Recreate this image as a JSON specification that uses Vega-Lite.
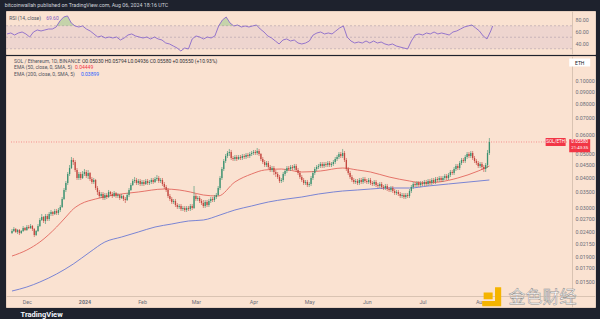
{
"$schema": "https://vega.github.io/schema/vega-lite/v6.json",
"background": "#1e222d",
"padding": {"left": 4, "top": 2, "right": 7, "bottom": 3},
"title": {"text": "bitcoinwallah published on TradingView.com, Aug 06, 2024 18:16 UTC", "anchor": "start", "fontSize": 5.3, "font": "Roboto", "fontWeight": "normal", "color": "#d1d4dc", "offset": 2.5},
"spacing": 0,
"config": {
  "view": {"fill": "#fae2d1", "stroke": "#e6cfbf", "strokeWidth": 1},
  "font": "Roboto",
  "axis": {"labelFont": "Roboto", "labelColor": "#6a6d78", "labelFontSize": 5.3, "grid": false, "ticks": false, "domainColor": "#d9c3b2", "domainWidth": 1}
},
"datasets": {
"candles": [
{"t":"2023-11-23","o":0.02365,"h":0.02455,"l":0.02342,"c":0.02410},
{"t":"2023-11-24","o":0.02410,"h":0.02502,"l":0.02387,"c":0.02455},
{"t":"2023-11-25","o":0.02455,"h":0.02479,"l":0.02365,"c":0.02387},
{"t":"2023-11-26","o":0.02387,"h":0.02455,"l":0.02342,"c":0.02432},
{"t":"2023-11-27","o":0.02432,"h":0.02455,"l":0.02320,"c":0.02365},
{"t":"2023-11-28","o":0.02365,"h":0.02432,"l":0.02342,"c":0.02410},
{"t":"2023-11-29","o":0.02410,"h":0.02526,"l":0.02387,"c":0.02479},
{"t":"2023-11-30","o":0.02479,"h":0.02502,"l":0.02410,"c":0.02432},
{"t":"2023-12-01","o":0.02432,"h":0.02550,"l":0.02410,"c":0.02502},
{"t":"2023-12-02","o":0.02502,"h":0.02550,"l":0.02455,"c":0.02479},
{"t":"2023-12-03","o":0.02479,"h":0.02574,"l":0.02455,"c":0.02526},
{"t":"2023-12-04","o":0.02526,"h":0.02550,"l":0.02410,"c":0.02455},
{"t":"2023-12-05","o":0.02455,"h":0.02479,"l":0.02277,"c":0.02320},
{"t":"2023-12-06","o":0.02320,"h":0.02432,"l":0.02299,"c":0.02410},
{"t":"2023-12-07","o":0.02410,"h":0.02574,"l":0.02387,"c":0.02526},
{"t":"2023-12-08","o":0.02526,"h":0.02724,"l":0.02502,"c":0.02673},
{"t":"2023-12-09","o":0.02673,"h":0.02829,"l":0.02648,"c":0.02750},
{"t":"2023-12-10","o":0.02750,"h":0.02776,"l":0.02599,"c":0.02648},
{"t":"2023-12-11","o":0.02648,"h":0.02829,"l":0.02574,"c":0.02776},
{"t":"2023-12-12","o":0.02776,"h":0.02829,"l":0.02648,"c":0.02699},
{"t":"2023-12-13","o":0.02699,"h":0.02883,"l":0.02648,"c":0.02829},
{"t":"2023-12-14","o":0.02829,"h":0.02938,"l":0.02776,"c":0.02883},
{"t":"2023-12-15","o":0.02883,"h":0.02910,"l":0.02776,"c":0.02829},
{"t":"2023-12-16","o":0.02829,"h":0.02966,"l":0.02803,"c":0.02910},
{"t":"2023-12-17","o":0.02910,"h":0.02966,"l":0.02803,"c":0.02856},
{"t":"2023-12-18","o":0.02856,"h":0.02994,"l":0.02803,"c":0.02938},
{"t":"2023-12-19","o":0.02938,"h":0.03080,"l":0.02883,"c":0.03022},
{"t":"2023-12-20","o":0.03022,"h":0.03321,"l":0.02994,"c":0.03259},
{"t":"2023-12-21","o":0.03259,"h":0.03615,"l":0.03228,"c":0.03548},
{"t":"2023-12-22","o":0.03548,"h":0.03862,"l":0.03481,"c":0.03790},
{"t":"2023-12-23","o":0.03790,"h":0.04204,"l":0.03719,"c":0.04126},
{"t":"2023-12-24","o":0.04126,"h":0.04491,"l":0.04049,"c":0.04366},
{"t":"2023-12-25","o":0.04366,"h":0.04843,"l":0.04325,"c":0.04708},
{"t":"2023-12-26","o":0.04708,"h":0.04798,"l":0.04491,"c":0.04620},
{"t":"2023-12-27","o":0.04620,"h":0.04708,"l":0.04204,"c":0.04284},
{"t":"2023-12-28","o":0.04284,"h":0.04366,"l":0.03899,"c":0.03973},
{"t":"2023-12-29","o":0.03973,"h":0.04204,"l":0.03899,"c":0.04126},
{"t":"2023-12-30","o":0.04126,"h":0.04204,"l":0.03899,"c":0.03973},
{"t":"2023-12-31","o":0.03973,"h":0.04244,"l":0.03936,"c":0.04126},
{"t":"2024-01-01","o":0.04126,"h":0.04325,"l":0.04049,"c":0.04204},
{"t":"2024-01-02","o":0.04204,"h":0.04284,"l":0.03973,"c":0.04049},
{"t":"2024-01-03","o":0.04049,"h":0.04284,"l":0.03936,"c":0.04165},
{"t":"2024-01-04","o":0.04165,"h":0.04204,"l":0.03862,"c":0.03936},
{"t":"2024-01-05","o":0.03936,"h":0.04011,"l":0.03755,"c":0.03826},
{"t":"2024-01-06","o":0.03826,"h":0.03973,"l":0.03755,"c":0.03899},
{"t":"2024-01-07","o":0.03899,"h":0.03936,"l":0.03548,"c":0.03615},
{"t":"2024-01-08","o":0.03615,"h":0.03684,"l":0.03384,"c":0.03481},
{"t":"2024-01-09","o":0.03481,"h":0.03548,"l":0.03290,"c":0.03352},
{"t":"2024-01-10","o":0.03352,"h":0.03481,"l":0.03290,"c":0.03416},
{"t":"2024-01-11","o":0.03416,"h":0.03481,"l":0.03228,"c":0.03290},
{"t":"2024-01-12","o":0.03290,"h":0.03449,"l":0.03228,"c":0.03384},
{"t":"2024-01-13","o":0.03384,"h":0.03449,"l":0.03259,"c":0.03321},
{"t":"2024-01-14","o":0.03321,"h":0.03548,"l":0.03290,"c":0.03481},
{"t":"2024-01-15","o":0.03481,"h":0.03514,"l":0.03352,"c":0.03416},
{"t":"2024-01-16","o":0.03416,"h":0.03481,"l":0.03290,"c":0.03352},
{"t":"2024-01-17","o":0.03352,"h":0.03514,"l":0.03321,"c":0.03449},
{"t":"2024-01-18","o":0.03449,"h":0.03481,"l":0.03290,"c":0.03352},
{"t":"2024-01-19","o":0.03352,"h":0.03449,"l":0.03290,"c":0.03384},
{"t":"2024-01-20","o":0.03384,"h":0.03416,"l":0.03228,"c":0.03290},
{"t":"2024-01-21","o":0.03290,"h":0.03416,"l":0.03259,"c":0.03352},
{"t":"2024-01-22","o":0.03352,"h":0.03384,"l":0.03198,"c":0.03259},
{"t":"2024-01-23","o":0.03259,"h":0.03321,"l":0.03138,"c":0.03228},
{"t":"2024-01-24","o":0.03228,"h":0.03449,"l":0.03198,"c":0.03384},
{"t":"2024-01-25","o":0.03384,"h":0.03615,"l":0.03321,"c":0.03548},
{"t":"2024-01-26","o":0.03548,"h":0.03790,"l":0.03514,"c":0.03719},
{"t":"2024-01-27","o":0.03719,"h":0.03936,"l":0.03684,"c":0.03862},
{"t":"2024-01-28","o":0.03862,"h":0.04011,"l":0.03790,"c":0.03899},
{"t":"2024-01-29","o":0.03899,"h":0.03973,"l":0.03719,"c":0.03790},
{"t":"2024-01-30","o":0.03790,"h":0.03936,"l":0.03719,"c":0.03862},
{"t":"2024-01-31","o":0.03862,"h":0.03936,"l":0.03684,"c":0.03755},
{"t":"2024-02-01","o":0.03755,"h":0.03899,"l":0.03684,"c":0.03826},
{"t":"2024-02-02","o":0.03826,"h":0.03899,"l":0.03684,"c":0.03755},
{"t":"2024-02-03","o":0.03755,"h":0.03936,"l":0.03719,"c":0.03862},
{"t":"2024-02-04","o":0.03862,"h":0.03936,"l":0.03719,"c":0.03790},
{"t":"2024-02-05","o":0.03790,"h":0.03899,"l":0.03719,"c":0.03826},
{"t":"2024-02-06","o":0.03826,"h":0.03973,"l":0.03755,"c":0.03899},
{"t":"2024-02-07","o":0.03899,"h":0.03973,"l":0.03755,"c":0.03826},
{"t":"2024-02-08","o":0.03826,"h":0.04011,"l":0.03790,"c":0.03936},
{"t":"2024-02-09","o":0.03936,"h":0.04087,"l":0.03862,"c":0.03973},
{"t":"2024-02-10","o":0.03973,"h":0.04049,"l":0.03790,"c":0.03862},
{"t":"2024-02-11","o":0.03862,"h":0.03973,"l":0.03790,"c":0.03899},
{"t":"2024-02-12","o":0.03899,"h":0.03973,"l":0.03684,"c":0.03755},
{"t":"2024-02-13","o":0.03755,"h":0.03826,"l":0.03581,"c":0.03649},
{"t":"2024-02-14","o":0.03649,"h":0.03719,"l":0.03481,"c":0.03548},
{"t":"2024-02-15","o":0.03548,"h":0.03615,"l":0.03290,"c":0.03352},
{"t":"2024-02-16","o":0.03352,"h":0.03416,"l":0.03198,"c":0.03259},
{"t":"2024-02-17","o":0.03259,"h":0.03321,"l":0.03109,"c":0.03168},
{"t":"2024-02-18","o":0.03168,"h":0.03259,"l":0.03109,"c":0.03198},
{"t":"2024-02-19","o":0.03198,"h":0.03259,"l":0.03022,"c":0.03080},
{"t":"2024-02-20","o":0.03080,"h":0.03138,"l":0.02966,"c":0.03022},
{"t":"2024-02-21","o":0.03022,"h":0.03109,"l":0.02966,"c":0.03051},
{"t":"2024-02-22","o":0.03051,"h":0.03109,"l":0.02910,"c":0.02966},
{"t":"2024-02-23","o":0.02966,"h":0.03051,"l":0.02910,"c":0.02994},
{"t":"2024-02-24","o":0.02994,"h":0.03051,"l":0.02883,"c":0.02938},
{"t":"2024-02-25","o":0.02938,"h":0.03051,"l":0.02883,"c":0.02994},
{"t":"2024-02-26","o":0.02994,"h":0.03051,"l":0.02910,"c":0.02966},
{"t":"2024-02-27","o":0.02966,"h":0.03109,"l":0.02910,"c":0.03051},
{"t":"2024-02-28","o":0.03051,"h":0.03109,"l":0.02938,"c":0.02994},
{"t":"2024-02-29","o":0.02994,"h":0.03684,"l":0.02966,"c":0.03352},
{"t":"2024-03-01","o":0.03352,"h":0.03416,"l":0.03198,"c":0.03259},
{"t":"2024-03-02","o":0.03259,"h":0.03352,"l":0.03198,"c":0.03290},
{"t":"2024-03-03","o":0.03290,"h":0.03352,"l":0.03138,"c":0.03198},
{"t":"2024-03-04","o":0.03198,"h":0.03259,"l":0.03080,"c":0.03138},
{"t":"2024-03-05","o":0.03138,"h":0.03228,"l":0.02994,"c":0.03051},
{"t":"2024-03-06","o":0.03051,"h":0.03228,"l":0.02994,"c":0.03168},
{"t":"2024-03-07","o":0.03168,"h":0.03228,"l":0.03022,"c":0.03080},
{"t":"2024-03-08","o":0.03080,"h":0.03259,"l":0.03022,"c":0.03198},
{"t":"2024-03-09","o":0.03198,"h":0.03321,"l":0.03138,"c":0.03259},
{"t":"2024-03-10","o":0.03259,"h":0.03321,"l":0.03168,"c":0.03228},
{"t":"2024-03-11","o":0.03228,"h":0.03384,"l":0.03168,"c":0.03321},
{"t":"2024-03-12","o":0.03321,"h":0.03449,"l":0.03259,"c":0.03384},
{"t":"2024-03-13","o":0.03384,"h":0.03684,"l":0.03352,"c":0.03615},
{"t":"2024-03-14","o":0.03615,"h":0.04049,"l":0.03548,"c":0.03973},
{"t":"2024-03-15","o":0.03973,"h":0.04407,"l":0.03899,"c":0.04325},
{"t":"2024-03-16","o":0.04325,"h":0.04753,"l":0.04244,"c":0.04664},
{"t":"2024-03-17","o":0.04664,"h":0.04983,"l":0.04577,"c":0.04889},
{"t":"2024-03-18","o":0.04889,"h":0.05126,"l":0.04798,"c":0.05030},
{"t":"2024-03-19","o":0.05030,"h":0.05224,"l":0.04889,"c":0.05077},
{"t":"2024-03-20","o":0.05077,"h":0.05175,"l":0.04708,"c":0.04798},
{"t":"2024-03-21","o":0.04798,"h":0.04889,"l":0.04664,"c":0.04753},
{"t":"2024-03-22","o":0.04753,"h":0.04936,"l":0.04664,"c":0.04843},
{"t":"2024-03-23","o":0.04843,"h":0.04936,"l":0.04664,"c":0.04753},
{"t":"2024-03-24","o":0.04753,"h":0.04936,"l":0.04708,"c":0.04843},
{"t":"2024-03-25","o":0.04843,"h":0.04936,"l":0.04708,"c":0.04798},
{"t":"2024-03-26","o":0.04798,"h":0.04983,"l":0.04708,"c":0.04889},
{"t":"2024-03-27","o":0.04889,"h":0.04983,"l":0.04753,"c":0.04843},
{"t":"2024-03-28","o":0.04843,"h":0.05030,"l":0.04753,"c":0.04936},
{"t":"2024-03-29","o":0.04936,"h":0.05030,"l":0.04798,"c":0.04889},
{"t":"2024-03-30","o":0.04889,"h":0.05077,"l":0.04798,"c":0.04983},
{"t":"2024-03-31","o":0.04983,"h":0.05126,"l":0.04889,"c":0.05030},
{"t":"2024-04-01","o":0.05030,"h":0.05175,"l":0.04936,"c":0.05077},
{"t":"2024-04-02","o":0.05077,"h":0.05175,"l":0.04936,"c":0.05030},
{"t":"2024-04-03","o":0.05030,"h":0.05273,"l":0.04936,"c":0.05126},
{"t":"2024-04-04","o":0.05126,"h":0.05224,"l":0.04889,"c":0.04983},
{"t":"2024-04-05","o":0.04983,"h":0.05030,"l":0.04664,"c":0.04753},
{"t":"2024-04-06","o":0.04753,"h":0.04843,"l":0.04534,"c":0.04620},
{"t":"2024-04-07","o":0.04620,"h":0.04708,"l":0.04407,"c":0.04491},
{"t":"2024-04-08","o":0.04491,"h":0.04664,"l":0.04407,"c":0.04577},
{"t":"2024-04-09","o":0.04577,"h":0.04664,"l":0.04325,"c":0.04407},
{"t":"2024-04-10","o":0.04407,"h":0.04491,"l":0.04204,"c":0.04284},
{"t":"2024-04-11","o":0.04284,"h":0.04449,"l":0.04204,"c":0.04366},
{"t":"2024-04-12","o":0.04366,"h":0.04449,"l":0.04087,"c":0.04204},
{"t":"2024-04-13","o":0.04204,"h":0.04284,"l":0.04011,"c":0.04126},
{"t":"2024-04-14","o":0.04126,"h":0.04204,"l":0.03936,"c":0.04011},
{"t":"2024-04-15","o":0.04011,"h":0.04087,"l":0.03790,"c":0.03862},
{"t":"2024-04-16","o":0.03862,"h":0.03973,"l":0.03790,"c":0.03899},
{"t":"2024-04-17","o":0.03899,"h":0.04204,"l":0.03826,"c":0.04126},
{"t":"2024-04-18","o":0.04126,"h":0.04325,"l":0.04049,"c":0.04244},
{"t":"2024-04-19","o":0.04244,"h":0.04449,"l":0.04165,"c":0.04366},
{"t":"2024-04-20","o":0.04366,"h":0.04449,"l":0.04244,"c":0.04325},
{"t":"2024-04-21","o":0.04325,"h":0.04491,"l":0.04244,"c":0.04407},
{"t":"2024-04-22","o":0.04407,"h":0.04491,"l":0.04284,"c":0.04366},
{"t":"2024-04-23","o":0.04366,"h":0.04534,"l":0.04284,"c":0.04449},
{"t":"2024-04-24","o":0.04449,"h":0.04534,"l":0.04204,"c":0.04284},
{"t":"2024-04-25","o":0.04284,"h":0.04366,"l":0.04087,"c":0.04165},
{"t":"2024-04-26","o":0.04165,"h":0.04244,"l":0.03936,"c":0.04011},
{"t":"2024-04-27","o":0.04011,"h":0.04087,"l":0.03826,"c":0.03899},
{"t":"2024-04-28","o":0.03899,"h":0.03973,"l":0.03719,"c":0.03790},
{"t":"2024-04-29","o":0.03790,"h":0.03899,"l":0.03719,"c":0.03826},
{"t":"2024-04-30","o":0.03826,"h":0.03899,"l":0.03649,"c":0.03719},
{"t":"2024-05-01","o":0.03719,"h":0.03826,"l":0.03649,"c":0.03755},
{"t":"2024-05-02","o":0.03755,"h":0.04049,"l":0.03684,"c":0.03973},
{"t":"2024-05-03","o":0.03973,"h":0.04244,"l":0.03899,"c":0.04165},
{"t":"2024-05-04","o":0.04165,"h":0.04407,"l":0.04087,"c":0.04325},
{"t":"2024-05-05","o":0.04325,"h":0.04491,"l":0.04244,"c":0.04407},
{"t":"2024-05-06","o":0.04407,"h":0.04534,"l":0.04325,"c":0.04449},
{"t":"2024-05-07","o":0.04449,"h":0.04620,"l":0.04366,"c":0.04534},
{"t":"2024-05-08","o":0.04534,"h":0.04620,"l":0.04366,"c":0.04449},
{"t":"2024-05-09","o":0.04449,"h":0.04620,"l":0.04366,"c":0.04534},
{"t":"2024-05-10","o":0.04534,"h":0.04620,"l":0.04407,"c":0.04491},
{"t":"2024-05-11","o":0.04491,"h":0.04664,"l":0.04407,"c":0.04577},
{"t":"2024-05-12","o":0.04577,"h":0.04664,"l":0.04407,"c":0.04491},
{"t":"2024-05-13","o":0.04491,"h":0.04620,"l":0.04407,"c":0.04534},
{"t":"2024-05-14","o":0.04534,"h":0.04708,"l":0.04449,"c":0.04620},
{"t":"2024-05-15","o":0.04620,"h":0.04843,"l":0.04534,"c":0.04753},
{"t":"2024-05-16","o":0.04753,"h":0.04936,"l":0.04664,"c":0.04843},
{"t":"2024-05-17","o":0.04843,"h":0.05077,"l":0.04753,"c":0.04983},
{"t":"2024-05-18","o":0.04983,"h":0.05077,"l":0.04798,"c":0.04889},
{"t":"2024-05-19","o":0.04889,"h":0.05224,"l":0.04798,"c":0.05030},
{"t":"2024-05-20","o":0.05030,"h":0.05126,"l":0.04620,"c":0.04708},
{"t":"2024-05-21","o":0.04708,"h":0.04798,"l":0.04244,"c":0.04325},
{"t":"2024-05-22","o":0.04325,"h":0.04407,"l":0.04087,"c":0.04165},
{"t":"2024-05-23","o":0.04165,"h":0.04244,"l":0.03936,"c":0.04011},
{"t":"2024-05-24","o":0.04011,"h":0.04087,"l":0.03826,"c":0.03899},
{"t":"2024-05-25","o":0.03899,"h":0.03973,"l":0.03755,"c":0.03826},
{"t":"2024-05-26","o":0.03826,"h":0.03936,"l":0.03755,"c":0.03862},
{"t":"2024-05-27","o":0.03862,"h":0.03936,"l":0.03719,"c":0.03790},
{"t":"2024-05-28","o":0.03790,"h":0.03973,"l":0.03719,"c":0.03899},
{"t":"2024-05-29","o":0.03899,"h":0.03973,"l":0.03755,"c":0.03826},
{"t":"2024-05-30","o":0.03826,"h":0.04011,"l":0.03755,"c":0.03936},
{"t":"2024-05-31","o":0.03936,"h":0.04011,"l":0.03790,"c":0.03862},
{"t":"2024-06-01","o":0.03862,"h":0.03936,"l":0.03755,"c":0.03826},
{"t":"2024-06-02","o":0.03826,"h":0.03973,"l":0.03755,"c":0.03899},
{"t":"2024-06-03","o":0.03899,"h":0.03973,"l":0.03719,"c":0.03790},
{"t":"2024-06-04","o":0.03790,"h":0.03862,"l":0.03684,"c":0.03755},
{"t":"2024-06-05","o":0.03755,"h":0.03899,"l":0.03684,"c":0.03826},
{"t":"2024-06-06","o":0.03826,"h":0.03899,"l":0.03649,"c":0.03719},
{"t":"2024-06-07","o":0.03719,"h":0.03790,"l":0.03615,"c":0.03684},
{"t":"2024-06-08","o":0.03684,"h":0.03826,"l":0.03615,"c":0.03755},
{"t":"2024-06-09","o":0.03755,"h":0.03826,"l":0.03581,"c":0.03649},
{"t":"2024-06-10","o":0.03649,"h":0.03719,"l":0.03548,"c":0.03615},
{"t":"2024-06-11","o":0.03615,"h":0.03755,"l":0.03548,"c":0.03684},
{"t":"2024-06-12","o":0.03684,"h":0.03755,"l":0.03514,"c":0.03581},
{"t":"2024-06-13","o":0.03581,"h":0.03649,"l":0.03481,"c":0.03548},
{"t":"2024-06-14","o":0.03548,"h":0.03684,"l":0.03481,"c":0.03615},
{"t":"2024-06-15","o":0.03615,"h":0.03684,"l":0.03449,"c":0.03514},
{"t":"2024-06-16","o":0.03514,"h":0.03581,"l":0.03384,"c":0.03449},
{"t":"2024-06-17","o":0.03449,"h":0.03548,"l":0.03384,"c":0.03481},
{"t":"2024-06-18","o":0.03481,"h":0.03548,"l":0.03352,"c":0.03416},
{"t":"2024-06-19","o":0.03416,"h":0.03481,"l":0.03290,"c":0.03352},
{"t":"2024-06-20","o":0.03352,"h":0.03449,"l":0.03290,"c":0.03384},
{"t":"2024-06-21","o":0.03384,"h":0.03449,"l":0.03259,"c":0.03321},
{"t":"2024-06-22","o":0.03321,"h":0.03449,"l":0.03259,"c":0.03384},
{"t":"2024-06-23","o":0.03384,"h":0.03449,"l":0.03290,"c":0.03352},
{"t":"2024-06-24","o":0.03352,"h":0.03581,"l":0.03290,"c":0.03514},
{"t":"2024-06-25","o":0.03514,"h":0.03719,"l":0.03449,"c":0.03649},
{"t":"2024-06-26","o":0.03649,"h":0.03826,"l":0.03581,"c":0.03755},
{"t":"2024-06-27","o":0.03755,"h":0.03826,"l":0.03649,"c":0.03719},
{"t":"2024-06-28","o":0.03719,"h":0.03862,"l":0.03649,"c":0.03790},
{"t":"2024-06-29","o":0.03790,"h":0.03862,"l":0.03649,"c":0.03719},
{"t":"2024-06-30","o":0.03719,"h":0.03862,"l":0.03649,"c":0.03790},
{"t":"2024-07-01","o":0.03790,"h":0.03862,"l":0.03684,"c":0.03755},
{"t":"2024-07-02","o":0.03755,"h":0.03899,"l":0.03684,"c":0.03826},
{"t":"2024-07-03","o":0.03826,"h":0.03899,"l":0.03684,"c":0.03755},
{"t":"2024-07-04","o":0.03755,"h":0.03936,"l":0.03684,"c":0.03862},
{"t":"2024-07-05","o":0.03862,"h":0.03936,"l":0.03719,"c":0.03790},
{"t":"2024-07-06","o":0.03790,"h":0.03973,"l":0.03719,"c":0.03899},
{"t":"2024-07-07","o":0.03899,"h":0.03973,"l":0.03755,"c":0.03826},
{"t":"2024-07-08","o":0.03826,"h":0.04011,"l":0.03755,"c":0.03936},
{"t":"2024-07-09","o":0.03936,"h":0.04011,"l":0.03826,"c":0.03899},
{"t":"2024-07-10","o":0.03899,"h":0.04049,"l":0.03826,"c":0.03973},
{"t":"2024-07-11","o":0.03973,"h":0.04049,"l":0.03826,"c":0.03899},
{"t":"2024-07-12","o":0.03899,"h":0.04049,"l":0.03826,"c":0.03973},
{"t":"2024-07-13","o":0.03973,"h":0.04126,"l":0.03899,"c":0.04049},
{"t":"2024-07-14","o":0.04049,"h":0.04126,"l":0.03899,"c":0.03973},
{"t":"2024-07-15","o":0.03973,"h":0.04165,"l":0.03899,"c":0.04087},
{"t":"2024-07-16","o":0.04087,"h":0.04284,"l":0.04011,"c":0.04204},
{"t":"2024-07-17","o":0.04204,"h":0.04284,"l":0.04087,"c":0.04165},
{"t":"2024-07-18","o":0.04165,"h":0.04407,"l":0.04087,"c":0.04325},
{"t":"2024-07-19","o":0.04325,"h":0.04534,"l":0.04244,"c":0.04449},
{"t":"2024-07-20","o":0.04449,"h":0.04534,"l":0.04284,"c":0.04366},
{"t":"2024-07-21","o":0.04366,"h":0.04664,"l":0.04284,"c":0.04577},
{"t":"2024-07-22","o":0.04577,"h":0.04798,"l":0.04491,"c":0.04708},
{"t":"2024-07-23","o":0.04708,"h":0.04798,"l":0.04577,"c":0.04664},
{"t":"2024-07-24","o":0.04664,"h":0.04936,"l":0.04577,"c":0.04843},
{"t":"2024-07-25","o":0.04843,"h":0.05077,"l":0.04753,"c":0.04983},
{"t":"2024-07-26","o":0.04983,"h":0.05077,"l":0.04798,"c":0.04889},
{"t":"2024-07-27","o":0.04889,"h":0.05126,"l":0.04798,"c":0.05030},
{"t":"2024-07-28","o":0.05030,"h":0.05126,"l":0.04708,"c":0.04798},
{"t":"2024-07-29","o":0.04798,"h":0.04889,"l":0.04577,"c":0.04664},
{"t":"2024-07-30","o":0.04664,"h":0.04753,"l":0.04491,"c":0.04577},
{"t":"2024-07-31","o":0.04577,"h":0.04664,"l":0.04366,"c":0.04449},
{"t":"2024-08-01","o":0.04449,"h":0.04620,"l":0.04366,"c":0.04534},
{"t":"2024-08-02","o":0.04534,"h":0.04620,"l":0.04284,"c":0.04407},
{"t":"2024-08-03","o":0.04407,"h":0.04491,"l":0.04204,"c":0.04325},
{"t":"2024-08-04","o":0.04325,"h":0.04577,"l":0.04204,"c":0.04491},
{"t":"2024-08-05","o":0.04491,"h":0.05175,"l":0.04366,"c":0.05030},
{"t":"2024-08-06","o":0.05030,"h":0.05794,"l":0.04936,"c":0.05580}
],
"ema": [
{"t":"2023-11-23","s":"EMA 50","v":0.01903},
{"t":"2023-12-01","s":"EMA 50","v":0.02014},
{"t":"2023-12-08","s":"EMA 50","v":0.02172},
{"t":"2023-12-17","s":"EMA 50","v":0.02502},
{"t":"2023-12-22","s":"EMA 50","v":0.02750},
{"t":"2023-12-26","s":"EMA 50","v":0.02966},
{"t":"2023-12-30","s":"EMA 50","v":0.03109},
{"t":"2024-01-07","s":"EMA 50","v":0.03259},
{"t":"2024-01-17","s":"EMA 50","v":0.03384},
{"t":"2024-01-30","s":"EMA 50","v":0.03481},
{"t":"2024-02-13","s":"EMA 50","v":0.03581},
{"t":"2024-02-21","s":"EMA 50","v":0.03548},
{"t":"2024-02-27","s":"EMA 50","v":0.03481},
{"t":"2024-03-05","s":"EMA 50","v":0.03384},
{"t":"2024-03-13","s":"EMA 50","v":0.03352},
{"t":"2024-03-22","s":"EMA 50","v":0.03826},
{"t":"2024-03-31","s":"EMA 50","v":0.04126},
{"t":"2024-04-07","s":"EMA 50","v":0.04284},
{"t":"2024-04-16","s":"EMA 50","v":0.04325},
{"t":"2024-04-27","s":"EMA 50","v":0.04204},
{"t":"2024-05-07","s":"EMA 50","v":0.04244},
{"t":"2024-05-19","s":"EMA 50","v":0.04366},
{"t":"2024-05-27","s":"EMA 50","v":0.04284},
{"t":"2024-06-03","s":"EMA 50","v":0.04204},
{"t":"2024-06-13","s":"EMA 50","v":0.04011},
{"t":"2024-06-24","s":"EMA 50","v":0.03862},
{"t":"2024-07-02","s":"EMA 50","v":0.03790},
{"t":"2024-07-10","s":"EMA 50","v":0.03826},
{"t":"2024-07-20","s":"EMA 50","v":0.03973},
{"t":"2024-07-31","s":"EMA 50","v":0.04244},
{"t":"2024-08-06","s":"EMA 50","v":0.04449},
{"t":"2023-11-23","s":"EMA 200","v":0.01368},
{"t":"2023-12-01","s":"EMA 200","v":0.01421},
{"t":"2023-12-08","s":"EMA 200","v":0.01489},
{"t":"2023-12-17","s":"EMA 200","v":0.01606},
{"t":"2023-12-26","s":"EMA 200","v":0.01765},
{"t":"2024-01-04","s":"EMA 200","v":0.01977},
{"t":"2024-01-12","s":"EMA 200","v":0.02172},
{"t":"2024-01-21","s":"EMA 200","v":0.02277},
{"t":"2024-01-30","s":"EMA 200","v":0.02387},
{"t":"2024-02-08","s":"EMA 200","v":0.02502},
{"t":"2024-02-17","s":"EMA 200","v":0.02574},
{"t":"2024-02-26","s":"EMA 200","v":0.02648},
{"t":"2024-03-05","s":"EMA 200","v":0.02673},
{"t":"2024-03-14","s":"EMA 200","v":0.02803},
{"t":"2024-03-22","s":"EMA 200","v":0.02938},
{"t":"2024-03-31","s":"EMA 200","v":0.03051},
{"t":"2024-04-09","s":"EMA 200","v":0.03168},
{"t":"2024-04-19","s":"EMA 200","v":0.03259},
{"t":"2024-04-27","s":"EMA 200","v":0.03321},
{"t":"2024-05-06","s":"EMA 200","v":0.03416},
{"t":"2024-05-14","s":"EMA 200","v":0.03481},
{"t":"2024-05-19","s":"EMA 200","v":0.03514},
{"t":"2024-05-27","s":"EMA 200","v":0.03548},
{"t":"2024-06-03","s":"EMA 200","v":0.03581},
{"t":"2024-06-13","s":"EMA 200","v":0.03615},
{"t":"2024-06-24","s":"EMA 200","v":0.03615},
{"t":"2024-07-04","s":"EMA 200","v":0.03684},
{"t":"2024-07-15","s":"EMA 200","v":0.03755},
{"t":"2024-07-26","s":"EMA 200","v":0.03826},
{"t":"2024-08-06","s":"EMA 200","v":0.03899}
],
"rsi": [
{"t":"2023-11-23","rsi":55.7},{"t":"2023-11-25","rsi":57.4},{"t":"2023-11-27","rsi":53.9},{"t":"2023-11-29","rsi":57.4},
{"t":"2023-12-01","rsi":59.1},{"t":"2023-12-03","rsi":55.7},{"t":"2023-12-05","rsi":50.4},{"t":"2023-12-07","rsi":59.1},
{"t":"2023-12-09","rsi":62.6},{"t":"2023-12-11","rsi":60.9},{"t":"2023-12-13","rsi":62.6},{"t":"2023-12-15","rsi":64.3},
{"t":"2023-12-17","rsi":64.3},{"t":"2023-12-19","rsi":67.8},{"t":"2023-12-21","rsi":78.3},{"t":"2023-12-23","rsi":85.2},
{"t":"2023-12-25","rsi":87.0},{"t":"2023-12-27","rsi":74.8},{"t":"2023-12-29","rsi":69.6},{"t":"2023-12-31","rsi":67.8},
{"t":"2024-01-02","rsi":69.6},{"t":"2024-01-04","rsi":64.3},{"t":"2024-01-06","rsi":60.9},{"t":"2024-01-08","rsi":55.7},
{"t":"2024-01-10","rsi":50.4},{"t":"2024-01-12","rsi":52.2},{"t":"2024-01-14","rsi":48.7},{"t":"2024-01-16","rsi":50.4},
{"t":"2024-01-18","rsi":48.7},{"t":"2024-01-20","rsi":50.4},{"t":"2024-01-22","rsi":45.2},{"t":"2024-01-24","rsi":48.7},
{"t":"2024-01-26","rsi":53.9},{"t":"2024-01-28","rsi":55.7},{"t":"2024-01-30","rsi":52.2},{"t":"2024-02-01","rsi":50.4},
{"t":"2024-02-03","rsi":48.7},{"t":"2024-02-05","rsi":50.4},{"t":"2024-02-07","rsi":47.0},{"t":"2024-02-09","rsi":50.4},
{"t":"2024-02-11","rsi":47.0},{"t":"2024-02-13","rsi":45.2},{"t":"2024-02-15","rsi":40.0},{"t":"2024-02-17","rsi":38.3},
{"t":"2024-02-19","rsi":34.8},{"t":"2024-02-21","rsi":31.3},{"t":"2024-02-23","rsi":26.1},{"t":"2024-02-25","rsi":31.3},
{"t":"2024-02-27","rsi":29.6},{"t":"2024-02-29","rsi":47.0},{"t":"2024-03-02","rsi":52.2},{"t":"2024-03-04","rsi":50.4},
{"t":"2024-03-06","rsi":47.0},{"t":"2024-03-08","rsi":50.4},{"t":"2024-03-10","rsi":48.7},{"t":"2024-03-12","rsi":52.2},
{"t":"2024-03-14","rsi":69.6},{"t":"2024-03-16","rsi":80.0},{"t":"2024-03-18","rsi":85.2},{"t":"2024-03-20","rsi":74.8},
{"t":"2024-03-22","rsi":69.6},{"t":"2024-03-24","rsi":71.3},{"t":"2024-03-26","rsi":67.8},{"t":"2024-03-28","rsi":69.6},
{"t":"2024-03-30","rsi":67.8},{"t":"2024-04-01","rsi":69.6},{"t":"2024-04-03","rsi":71.3},{"t":"2024-04-05","rsi":64.3},
{"t":"2024-04-07","rsi":59.1},{"t":"2024-04-09","rsi":52.2},{"t":"2024-04-11","rsi":48.7},{"t":"2024-04-13","rsi":43.5},
{"t":"2024-04-15","rsi":38.3},{"t":"2024-04-17","rsi":45.2},{"t":"2024-04-19","rsi":47.0},{"t":"2024-04-21","rsi":43.5},
{"t":"2024-04-23","rsi":45.2},{"t":"2024-04-25","rsi":40.0},{"t":"2024-04-27","rsi":38.3},{"t":"2024-04-29","rsi":40.0},
{"t":"2024-05-01","rsi":43.5},{"t":"2024-05-03","rsi":53.9},{"t":"2024-05-05","rsi":57.4},{"t":"2024-05-07","rsi":59.1},
{"t":"2024-05-09","rsi":55.7},{"t":"2024-05-11","rsi":57.4},{"t":"2024-05-13","rsi":55.7},{"t":"2024-05-15","rsi":60.9},
{"t":"2024-05-17","rsi":66.1},{"t":"2024-05-19","rsi":69.6},{"t":"2024-05-21","rsi":50.4},{"t":"2024-05-23","rsi":43.5},
{"t":"2024-05-25","rsi":40.0},{"t":"2024-05-27","rsi":41.7},{"t":"2024-05-29","rsi":40.0},{"t":"2024-05-31","rsi":43.5},
{"t":"2024-06-02","rsi":40.0},{"t":"2024-06-04","rsi":43.5},{"t":"2024-06-06","rsi":40.0},{"t":"2024-06-08","rsi":41.7},
{"t":"2024-06-10","rsi":38.3},{"t":"2024-06-12","rsi":36.5},{"t":"2024-06-14","rsi":38.3},{"t":"2024-06-16","rsi":34.8},
{"t":"2024-06-18","rsi":33.0},{"t":"2024-06-20","rsi":31.3},{"t":"2024-06-22","rsi":29.6},{"t":"2024-06-24","rsi":43.5},
{"t":"2024-06-26","rsi":53.9},{"t":"2024-06-28","rsi":55.7},{"t":"2024-06-30","rsi":53.9},{"t":"2024-07-02","rsi":57.4},
{"t":"2024-07-04","rsi":55.7},{"t":"2024-07-06","rsi":59.1},{"t":"2024-07-08","rsi":55.7},{"t":"2024-07-10","rsi":57.4},
{"t":"2024-07-12","rsi":55.7},{"t":"2024-07-14","rsi":53.9},{"t":"2024-07-16","rsi":59.1},{"t":"2024-07-18","rsi":60.9},
{"t":"2024-07-20","rsi":64.3},{"t":"2024-07-22","rsi":67.8},{"t":"2024-07-24","rsi":69.6},{"t":"2024-07-26","rsi":71.3},
{"t":"2024-07-28","rsi":66.1},{"t":"2024-07-30","rsi":60.9},{"t":"2024-08-01","rsi":52.2},{"t":"2024-08-03","rsi":47.0},
{"t":"2024-08-05","rsi":60.9},{"t":"2024-08-06","rsi":69.6}
]
},
"vconcat": [
{
  "width": 589, "height": 43,
  "resolve": {"scale": {"y": "independent"}},
  "layer": [
    {
      "data": {"values": [{}]},
      "mark": {"type": "rect", "fill": "#7e57c2", "opacity": 0.09},
      "encoding": {
        "x": {"datum": {"year":2023,"month":11,"date":22,"hours":11,"utc":true}, "type": "temporal", "scale": {"type": "utc", "domain": [{"year":2023,"month":11,"date":22,"hours":11,"utc":true},{"year":2024,"month":9,"date":29,"hours":4,"utc":true}]}, "axis": null},
        "x2": {"datum": {"year":2024,"month":9,"date":17,"utc":true}},
        "y": {"datum": 70, "type": "quantitative", "scale": {"domain": [20.9, 95.6]}, "axis": null},
        "y2": {"datum": 30}
      }
    },
    {
      "data": {"values": [{"lv": 70}, {"lv": 50}, {"lv": 30}]},
      "mark": {"type": "rule", "color": "#9e8fa3", "strokeWidth": 0.6, "strokeDash": [2, 2], "opacity": 0.8},
      "encoding": {
        "x": {"datum": {"year":2023,"month":11,"date":22,"hours":11,"utc":true}, "type": "temporal", "axis": null},
        "x2": {"datum": {"year":2024,"month":9,"date":17,"utc":true}},
        "y": {"field": "lv", "type": "quantitative", "scale": {"domain": [20.9, 95.6]}, "axis": null, "title": null}
      }
    },
    {
      "data": {"name": "rsi"},
      "mark": {"type": "area", "color": "#4caf50", "opacity": 0.3},
      "encoding": {
        "x": {"field": "t", "type": "temporal", "axis": null, "title": null},
        "y": {"field": "rsi", "type": "quantitative", "scale": {"domain": [70, 95.6], "range": [14.74, 0], "clamp": true}, "axis": null, "title": null},
        "y2": {"datum": 70}
      }
    },
    {
      "data": {"name": "rsi"},
      "mark": {"type": "line", "color": "#8a6acb", "strokeWidth": 0.9},
      "encoding": {
        "x": {"field": "t", "type": "temporal", "axis": null, "title": null},
        "y": {"field": "rsi", "type": "quantitative", "title": null, "scale": {"domain": [20.9, 95.6]},
              "axis": {"orient": "right", "offset": -23, "values": [80, 60, 40], "format": ".2f", "labelPadding": 3, "labelAlign": "left", "title": null}}
      }
    },
    {
      "data": {"values": [{}]},
      "mark": {"type": "text", "text": "RSI (14, close)", "align": "left", "baseline": "middle", "fontSize": 5, "color": "#50535e"},
      "encoding": {
        "x": {"datum": {"year":2023,"month":11,"date":24,"hours":3,"utc":true}, "type": "temporal", "axis": null},
        "y": {"datum": 83.4, "type": "quantitative", "scale": {"domain": [20.9, 95.6]}, "axis": null}
      }
    },
    {
      "data": {"values": [{}]},
      "mark": {"type": "text", "text": "69.60", "align": "left", "baseline": "middle", "fontSize": 5, "color": "#7e57c2"},
      "encoding": {
        "x": {"datum": {"year":2023,"month":12,"date":13,"hours":17,"utc":true}, "type": "temporal", "axis": null},
        "y": {"datum": 83.4, "type": "quantitative", "scale": {"domain": [20.9, 95.6]}, "axis": null}
      }
    }
  ]
},
{
  "width": 589, "height": 251,
  "layer": [
    {
      "data": {"values": [{}]},
      "mark": {"type": "rule", "color": "#f23645", "strokeWidth": 0.8, "strokeDash": [1, 1.5], "opacity": 0.6},
      "encoding": {
        "x": {"datum": {"year":2023,"month":11,"date":22,"hours":11,"utc":true}, "type": "temporal", "scale": {"type": "utc", "domain": [{"year":2023,"month":11,"date":22,"hours":11,"utc":true},{"year":2024,"month":9,"date":29,"hours":4,"utc":true}]}},
        "x2": {"datum": {"year":2024,"month":9,"date":17,"utc":true}},
        "y": {"datum": 0.0558, "type": "quantitative", "scale": {"type": "log", "domain": [0.011765, 0.12559]}}
      }
    },
    {
      "data": {"name": "ema"},
      "mark": {"type": "line", "strokeWidth": 0.9, "interpolate": "monotone"},
      "encoding": {
        "x": {"field": "t", "type": "temporal"},
        "y": {"field": "v", "type": "quantitative", "title": null, "scale": {"type": "log", "domain": [0.011765, 0.12559]}},
        "color": {"field": "s", "type": "nominal", "scale": {"domain": ["EMA 50", "EMA 200"], "range": ["#e2675e", "#6b79d4"]}, "legend": null}
      }
    },
    {
      "data": {"name": "candles"},
      "mark": {"type": "rule", "strokeWidth": 0.6},
      "encoding": {
        "x": {"field": "t", "type": "temporal",
              "axis": {"orient": "bottom", "offset": -11, "labelPadding": 3,
                       "values": [{"year":2023,"month":12,"date":1,"utc":true},{"year":2024,"month":1,"date":1,"utc":true},{"year":2024,"month":2,"date":1,"utc":true},{"year":2024,"month":3,"date":1,"utc":true},{"year":2024,"month":4,"date":1,"utc":true},{"year":2024,"month":5,"date":1,"utc":true},{"year":2024,"month":6,"date":1,"utc":true},{"year":2024,"month":7,"date":1,"utc":true},{"year":2024,"month":8,"date":1,"utc":true}],
                       "labelExpr": "utcmonth(datum.value) == 0 ? utcFormat(datum.value, '%Y') : utcFormat(datum.value, '%b')",
                       "labelFontWeight": {"condition": {"test": "utcmonth(datum.value) == 0", "value": "bold"}, "value": "normal"},
                       "title": "TradingView", "titleColor": "#f0f3fa", "titleFontSize": 7.5, "titleFontWeight": "bold", "titleFont": "Roboto",
                       "titleAnchor": "start", "titleAlign": "left", "titleBaseline": "alphabetic", "titleX": 14, "titleY": 20}},
        "y": {"field": "l", "type": "quantitative", "title": null, "scale": {"type": "log", "domain": [0.011765, 0.12559]},
              "axis": {"orient": "right", "offset": -23, "labelPadding": 3, "labelAlign": "left", "format": ".5f", "title": null,
                       "values": [0.1, 0.09, 0.08, 0.07, 0.06, 0.05, 0.045, 0.04, 0.035, 0.03, 0.027, 0.024, 0.0215, 0.019, 0.017, 0.015]}},
        "y2": {"field": "h"},
        "color": {"condition": {"test": "datum.c >= datum.o", "value": "#3a9170"}, "value": "#c4473f"}
      }
    },
    {
      "data": {"name": "candles"},
      "mark": {"type": "bar", "width": 1.3},
      "encoding": {
        "x": {"field": "t", "type": "temporal"},
        "y": {"field": "o", "type": "quantitative", "title": null, "scale": {"type": "log", "domain": [0.011765, 0.12559]}},
        "y2": {"field": "c"},
        "color": {"condition": {"test": "datum.c >= datum.o", "value": "#3a9170"}, "value": "#c4473f"}
      }
    },
    {
      "data": {"values": [{}]},
      "mark": {"type": "text", "text": "SOL / Ethereum, 1D, BINANCE", "align": "left", "baseline": "middle", "fontSize": 5, "color": "#50535e"},
      "encoding": {
        "x": {"datum": {"year":2023,"month":11,"date":24,"hours":3,"utc":true}, "type": "temporal"},
        "y": {"datum": 0.11981, "type": "quantitative", "scale": {"type": "log", "domain": [0.011765, 0.12559]}}
      }
    },
    {
      "data": {"values": [{}]},
      "mark": {"type": "text", "text": "O0.05030 H0.05794 L0.04936 C0.05580 +0.00550 (+10.93%)", "align": "left", "baseline": "middle", "fontSize": 5, "color": "#2f3036"},
      "encoding": {
        "x": {"datum": {"year":2023,"month":12,"date":30,"hours":15,"utc":true}, "type": "temporal"},
        "y": {"datum": 0.11981, "type": "quantitative", "scale": {"type": "log", "domain": [0.011765, 0.12559]}}
      }
    },
    {
      "data": {"values": [{}]},
      "mark": {"type": "text", "text": "EMA (50, close, 0, SMA, 5)", "align": "left", "baseline": "middle", "fontSize": 5, "color": "#50535e"},
      "encoding": {
        "x": {"datum": {"year":2023,"month":11,"date":24,"hours":3,"utc":true}, "type": "temporal"},
        "y": {"datum": 0.11268, "type": "quantitative", "scale": {"type": "log", "domain": [0.011765, 0.12559]}}
      }
    },
    {
      "data": {"values": [{}]},
      "mark": {"type": "text", "text": "0.04449", "align": "left", "baseline": "middle", "fontSize": 5, "color": "#f23645"},
      "encoding": {
        "x": {"datum": {"year":2023,"month":12,"date":26,"hours":22,"utc":true}, "type": "temporal"},
        "y": {"datum": 0.11268, "type": "quantitative", "scale": {"type": "log", "domain": [0.011765, 0.12559]}}
      }
    },
    {
      "data": {"values": [{}]},
      "mark": {"type": "text", "text": "EMA (200, close, 0, SMA, 5)", "align": "left", "baseline": "middle", "fontSize": 5, "color": "#50535e"},
      "encoding": {
        "x": {"datum": {"year":2023,"month":11,"date":24,"hours":3,"utc":true}, "type": "temporal"},
        "y": {"datum": 0.10598, "type": "quantitative", "scale": {"type": "log", "domain": [0.011765, 0.12559]}}
      }
    },
    {
      "data": {"values": [{}]},
      "mark": {"type": "text", "text": "0.03899", "align": "left", "baseline": "middle", "fontSize": 5, "color": "#2962ff"},
      "encoding": {
        "x": {"datum": {"year":2023,"month":12,"date":30,"hours":2,"utc":true}, "type": "temporal"},
        "y": {"datum": 0.10598, "type": "quantitative", "scale": {"type": "log", "domain": [0.011765, 0.12559]}}
      }
    },
    {
      "data": {"values": [{}]},
      "mark": {"type": "point", "shape": "M-1,-0.38H1V0.38H-1Z", "size": 441, "filled": true, "color": "#ffffff", "opacity": 1},
      "encoding": {
        "x": {"datum": {"year":2024,"month":9,"date":23,"hours":15,"utc":true}, "type": "temporal"},
        "y": {"datum": 0.11812, "type": "quantitative", "scale": {"type": "log", "domain": [0.011765, 0.12559]}}
      }
    },
    {
      "data": {"values": [{}]},
      "mark": {"type": "text", "text": "ETH", "align": "center", "baseline": "middle", "fontSize": 5, "color": "#131722"},
      "encoding": {
        "x": {"datum": {"year":2024,"month":9,"date":23,"hours":15,"utc":true}, "type": "temporal"},
        "y": {"datum": 0.11812, "type": "quantitative", "scale": {"type": "log", "domain": [0.011765, 0.12559]}}
      }
    },
    {
      "data": {"values": [{}]},
      "mark": {"type": "point", "shape": "M-1,-0.4H1V0.4H-1Z", "size": 400, "filled": true, "color": "#f23645", "opacity": 1},
      "encoding": {
        "x": {"datum": {"year":2024,"month":9,"date":10,"hours":16,"utc":true}, "type": "temporal"},
        "y": {"datum": 0.0558, "type": "quantitative", "scale": {"type": "log", "domain": [0.011765, 0.12559]}}
      }
    },
    {
      "data": {"values": [{}]},
      "mark": {"type": "text", "text": "SOL/ETH", "align": "center", "baseline": "middle", "fontSize": 4.6, "color": "#ffffff"},
      "encoding": {
        "x": {"datum": {"year":2024,"month":9,"date":10,"hours":16,"utc":true}, "type": "temporal"},
        "y": {"datum": 0.0558, "type": "quantitative", "scale": {"type": "log", "domain": [0.011765, 0.12559]}}
      }
    },
    {
      "data": {"values": [{}]},
      "mark": {"type": "point", "shape": "M-1,-0.62H1V0.62H-1Z", "size": 441, "filled": true, "color": "#f23645", "opacity": 1},
      "encoding": {
        "x": {"datum": {"year":2024,"month":9,"date":23,"hours":15,"utc":true}, "type": "temporal"},
        "y": {"datum": 0.05386, "type": "quantitative", "scale": {"type": "log", "domain": [0.011765, 0.12559]}}
      }
    },
    {
      "data": {"values": [{}]},
      "mark": {"type": "text", "text": "0.05580", "align": "center", "baseline": "middle", "fontSize": 4.6, "color": "#ffffff"},
      "encoding": {
        "x": {"datum": {"year":2024,"month":9,"date":23,"hours":15,"utc":true}, "type": "temporal"},
        "y": {"datum": 0.0557, "type": "quantitative", "scale": {"type": "log", "domain": [0.011765, 0.12559]}}
      }
    },
    {
      "data": {"values": [{}]},
      "mark": {"type": "text", "text": "21:43:35", "align": "center", "baseline": "middle", "fontSize": 4.4, "color": "#ffffff"},
      "encoding": {
        "x": {"datum": {"year":2024,"month":9,"date":23,"hours":15,"utc":true}, "type": "temporal"},
        "y": {"datum": 0.0526, "type": "quantitative", "scale": {"type": "log", "domain": [0.011765, 0.12559]}}
      }
    },
    {
      "data": {"values": [{}]},
      "mark": {"type": "point", "shape": "M0.35,-1H1V1H-1V0.45H0.35Z M-0.85,-0.45H0.1V0.25H-0.85Z", "size": 360, "filled": true, "color": "#f5b400", "opacity": 1},
      "encoding": {
        "x": {"datum": {"year":2024,"month":8,"date":7,"hours":6,"utc":true}, "type": "temporal"},
        "y": {"datum": 0.01295, "type": "quantitative", "scale": {"type": "log", "domain": [0.011765, 0.12559]}}
      }
    },
    {
      "data": {"values": [{}]},
      "mark": {"type": "text", "text": "金色财经", "align": "left", "baseline": "middle", "fontSize": 17, "font": "Noto Sans CJK SC", "color": "#ffffff", "stroke": "#8a8a8a", "strokeWidth": 0.5, "opacity": 0.95},
      "encoding": {
        "x": {"datum": {"year":2024,"month":8,"date":16,"hours":7,"utc":true}, "type": "temporal"},
        "y": {"datum": 0.01285, "type": "quantitative", "scale": {"type": "log", "domain": [0.011765, 0.12559]}}
      }
    }
  ]
}
]
}
